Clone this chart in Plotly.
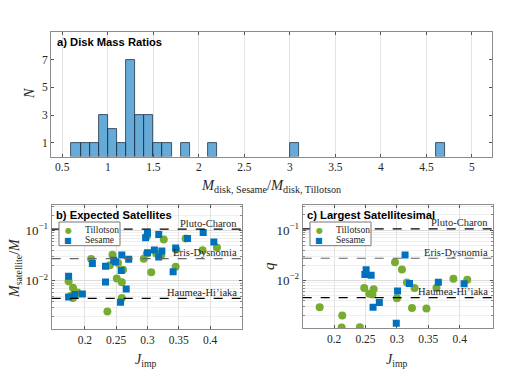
import math
import plotly.graph_objects as go

# a) histogram of disk mass ratios (bin centers, width 0.1)
bin_centers = [0.65, 0.75, 0.85, 0.95, 1.05, 1.15, 1.25, 1.35, 1.45, 1.55, 1.65, 1.85, 2.15, 3.05, 4.65]
bin_counts = [1, 1, 1, 3, 2, 1, 7, 3, 3, 1, 1, 1, 1, 1, 1]

# b) expected satellites
b_till_j = [0.174, 0.181, 0.188, 0.181, 0.178, 0.210, 0.244, 0.240, 0.253, 0.261, 0.251, 0.259,
            0.259, 0.236, 0.294, 0.299, 0.306, 0.299, 0.314, 0.322, 0.326, 0.345, 0.346, 0.361,
            0.388, 0.411]
b_till_m = [0.0099, 0.0073, 0.0059, 0.0046, 0.0051, 0.0272, 0.033, 0.0204, 0.0226, 0.0167, 0.0111, 0.0094,
            0.0046, 0.0025, 0.0275, 0.0347, 0.0148, 0.076, 0.0347, 0.0322, 0.066, 0.019, 0.0417, 0.069,
            0.0403, 0.0457]
b_ses_j = [0.174, 0.174, 0.184, 0.196, 0.212, 0.233, 0.233, 0.246, 0.249, 0.259, 0.258, 0.270,
           0.266, 0.257, 0.297, 0.300, 0.300, 0.311, 0.318, 0.323, 0.318, 0.341, 0.345, 0.364,
           0.389, 0.406]
b_ses_m = [0.0124, 0.0048, 0.0054, 0.0055, 0.022, 0.0195, 0.0095, 0.0256, 0.024, 0.0326, 0.016, 0.0269,
           0.0069, 0.0038, 0.0716, 0.087, 0.036, 0.0407, 0.083, 0.039, 0.0296, 0.0151, 0.0447, 0.0685,
           0.090, 0.0589]

# c) largest satellitesimal
c_till_j = [0.177, 0.213, 0.212, 0.241, 0.248, 0.263, 0.256, 0.261, 0.297, 0.308, 0.316, 0.328,
            0.300, 0.324, 0.347, 0.363, 0.390, 0.412]
c_till_q = [0.0029, 0.0020, 0.00115, 0.00116, 0.0070, 0.0066, 0.0054, 0.0052, 0.023, 0.0165, 0.0090, 0.0070,
            0.0044, 0.0028, 0.00275, 0.0071, 0.0108, 0.0102]
c_ses_j = [0.313, 0.251, 0.249, 0.259, 0.320, 0.301, 0.366, 0.407, 0.272, 0.262, 0.299]
c_ses_q = [0.0321, 0.0162, 0.0131, 0.0126, 0.0086, 0.0061, 0.0091, 0.0085, 0.0036, 0.0029, 0.0014]

# reference binaries
ref_names = ["Pluto-Charon", "Eris-Dysnomia", "Haumea-Hi’iaka"]
ref_q = [0.106, 0.0275, 0.0045]
ref_colors = ["black", "#666666", "black"]

GREEN = "#77AC30"
BLUE = "#0072BD"
SERIF = "Liberation Serif, DejaVu Serif, serif"
SANS = "Liberation Sans, Arial, sans-serif"
TXT = "#262626"
W, H = 525, 375
OFF = 8  # page body margin

fig = go.Figure()

fig.add_trace(go.Bar(x=bin_centers, y=bin_counts, width=0.1, xaxis="x", yaxis="y",
                     marker=dict(color="rgba(0,114,189,0.6)", line=dict(color="#1f3347", width=0.8)),
                     showlegend=False))

def scatter(x, y, name, color, symbol, size, ax):
    return go.Scatter(x=x, y=y, mode="markers", name=name, xaxis="x" + ax, yaxis="y" + ax,
                      showlegend=False, marker=dict(color=color, symbol=symbol, size=size, line=dict(width=0)))

fig.add_trace(scatter(b_till_j, b_till_m, "Tillotson", GREEN, "circle", 8, "2"))
fig.add_trace(scatter(b_ses_j, b_ses_m, "Sesame", BLUE, "square", 7, "2"))
fig.add_trace(scatter(c_till_j, c_till_q, "Tillotson", GREEN, "circle", 8, "3"))
fig.add_trace(scatter(c_ses_j, c_ses_q, "Sesame", BLUE, "square", 7, "3"))

def px(sx):
    return (sx - OFF) / W

def py(sy):
    return 1 - (sy - OFF) / H

def dom(x0, x1, y0, y1):
    return [px(x0), px(x1)], [py(y1), py(y0)]

frame = dict(showline=True, linecolor="#8c8c8c", linewidth=1, mirror="ticks", ticks="inside",
             tickcolor="#555555", ticklen=3, zeroline=False, tickfont=dict(family=SERIF, size=11.5, color=TXT))

xa, ya = dom(51, 492, 32, 156.5)
xb, yb = dom(51.7, 242, 205, 329)
xc, yc = dom(302.7, 493, 205, 328)

minor_log = [m * 10 ** e for e in (-3, -2, -1) for m in range(2, 10)]
log_axis = dict(frame, type="log", range=[-2.95, -0.5], tickvals=[0.01, 0.1],
                ticktext=["10<sup>−2</sup>", "10<sup>−1</sup>"], tickfont=dict(family=SERIF, size=13, color=TXT),
                showgrid=True, gridcolor="#dcdcdc",
                minor=dict(tickvals=minor_log, showgrid=True, gridcolor="#efefef", ticks="inside", ticklen=2,
                           tickcolor="#888888"))
j_axis = dict(frame, range=[0.147, 0.451], tickvals=[0.2, 0.25, 0.3, 0.35, 0.4],
              showgrid=True, gridcolor="#e3e3e3")

fig.update_layout(
    width=W, height=H, margin=dict(l=0, r=0, t=0, b=0),
    paper_bgcolor="white", plot_bgcolor="white", bargap=0, showlegend=False,
    xaxis=dict(frame, domain=xa, range=[0.376, 5.22], tickvals=[0.5, 1, 1.5, 2, 2.5, 3, 3.5, 4, 4.5, 5],
               showgrid=True, gridcolor="#e3e3e3", anchor="y"),
    yaxis=dict(frame, domain=ya, range=[0, 9], tickvals=[1, 3, 5, 7], showgrid=False, anchor="x"),
    xaxis2=dict(j_axis, domain=xb, anchor="y2"),
    yaxis2=dict(log_axis, domain=yb, anchor="x2"),
    xaxis3=dict(j_axis, domain=xc, range=[0.15, 0.453], anchor="y3"),
    yaxis3=dict(log_axis, domain=yc, anchor="x3"),
)

# reference binary lines and labels
for ax in ("2", "3"):
    for name, q, col in zip(ref_names, ref_q, ref_colors):
        fig.add_shape(type="line", xref="x" + ax + " domain", yref="y" + ax, x0=0, x1=1,
                      y0=q, y1=q, line=dict(color=col, width=1.2, dash="dash"))
        fig.add_annotation(text=name, xref="x" + ax + " domain", yref="y" + ax, x=0.985, y=math.log10(q),
                           xanchor="right", yanchor="middle", yshift=6, showarrow=False,
                           font=dict(family=SERIF, size=10.5, color=TXT))

# legends (Tillotson / Sesame): box plus one text row per series
for dx in (0, 251):
    fig.add_shape(type="rect", xref="paper", yref="paper", x0=px(59 + dx), x1=px(120 + dx),
                  y0=py(245.7), y1=py(222), fillcolor="white", line=dict(color="#777777", width=1))
    for sym, col, name, ry in (("●", GREEN, "Tillotson", 230.3), ("■", BLUE, "Sesame", 240.3)):
        fig.add_annotation(text=sym, xref="paper", yref="paper", x=px(68.3 + dx), y=py(ry),
                           xanchor="center", yanchor="middle", showarrow=False, borderpad=0,
                           font=dict(family="DejaVu Sans", size=8, color=col))
        fig.add_annotation(text=name, xref="paper", yref="paper", x=px(83.5 + dx), y=py(ry),
                           xanchor="left", yanchor="middle", showarrow=False, borderpad=0,
                           font=dict(family=SERIF, size=9.5, color=TXT))

# panel titles
for ax, t in (("", "a) Disk Mass Ratios"), ("2", "b) Expected Satellites"), ("3", "c) Largest Satellitesimal")):
    fig.add_annotation(text="<b>" + t + "</b>", xref="x" + ax + " domain", yref="y" + ax + " domain",
                       x=0.01, y=0.985, xanchor="left", yanchor="top", showarrow=False,
                       font=dict(family=SANS, size=11.2, color="black"))

# axis titles
def label(text, x, y, angle=0, size=13):
    fig.add_annotation(text=text, xref="paper", yref="paper", x=px(x), y=py(y), showarrow=False,
                       textangle=angle, xanchor="center", yanchor="middle",
                       font=dict(family=SERIF, size=size, color=TXT))

label("<i>M</i><sub>disk, Sesame</sub>/<i>M</i><sub>disk, Tillotson</sub>", 271, 186, size=14.5)
label("<i>N</i>", 29, 94, -90, 14)
label("<i>J</i><sub>imp</sub>", 146, 360, size=14)
label("<i>M</i><sub>satellite</sub>/<i>M</i>", 15, 268, -90, 14)
label("<i>J</i><sub>imp</sub>", 397, 360, size=14)
label("<i>q</i>", 269, 266, -90, 15)

fig.write_html("out.html")
